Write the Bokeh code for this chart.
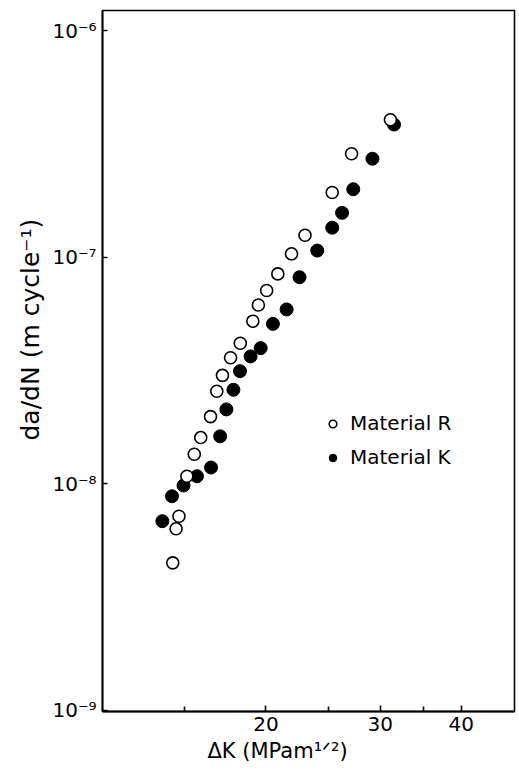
from bokeh.plotting import figure
from bokeh.models import (FixedTicker, CustomJSTickFormatter, Legend, LegendItem,
                          ColumnDataSource, Range1d, Title)
from bokeh.embed import file_html
from bokeh.resources import INLINE

# Stress-intensity range (MPa m^1/2) and crack growth rate (m/cycle)
r_dk = [31.1, 27.1, 25.3, 22.97, 21.9, 20.86, 20.05, 19.47, 19.09, 18.26,
        17.64, 17.14, 16.8, 16.43, 15.87, 15.51, 15.11, 14.69, 14.54, 14.37]
r_rate = [4.04e-7, 2.86e-7, 1.93e-7, 1.25e-7, 1.035e-7, 8.44e-8, 7.13e-8, 6.15e-8,
          5.22e-8, 4.17e-8, 3.60e-8, 3.01e-8, 2.56e-8, 1.98e-8, 1.60e-8, 1.35e-8,
          1.08e-8, 7.19e-9, 6.33e-9, 4.48e-9]

k_dk = [31.5, 29.18, 27.26, 26.2, 25.3, 23.99, 22.53, 21.52, 20.5, 19.63,
        18.94, 18.24, 17.82, 17.38, 17.0, 16.46, 15.66, 14.93, 14.33, 13.85]
k_rate = [3.85e-7, 2.72e-7, 1.995e-7, 1.57e-7, 1.35e-7, 1.07e-7, 8.16e-8, 5.88e-8,
          5.08e-8, 3.97e-8, 3.65e-8, 3.14e-8, 2.60e-8, 2.13e-8, 1.62e-8, 1.18e-8,
          1.08e-8, 9.83e-9, 8.81e-9, 6.84e-9]

series_names = ["Material R", "Material K"]
x_ticks = [20, 30, 40]
x_minor_ticks = [15, 25, 35]
y_ticks = [1e-9, 1e-8, 1e-7, 1e-6]
x_title = "ΔK (MPam¹ᐟ²)"
y_title = "da/dN (m  cycle⁻¹)"

FONT = "DejaVu Sans"

p = figure(width=518, height=775, x_axis_type="log", y_axis_type="log",
           x_range=Range1d(11.2, 48.3), y_range=Range1d(9.89e-10, 1.2266e-6),
           output_backend="svg", toolbar_location=None,
           min_border_left=102, min_border_right=4, min_border_top=10,
           min_border_bottom=64)

p.xgrid.visible = False
p.ygrid.visible = False
p.outline_line_color = "black"
p.outline_line_width = 1.6
p.background_fill_color = "white"
p.border_fill_color = "white"

# x axis
p.xaxis.ticker = FixedTicker(ticks=x_ticks, minor_ticks=x_minor_ticks)
p.xaxis.formatter = CustomJSTickFormatter(code="return String(Math.round(tick));")
p.xaxis.major_tick_in = 6
p.xaxis.major_tick_out = 0
p.xaxis.minor_tick_in = 5
p.xaxis.minor_tick_out = 0
p.xaxis.major_label_standoff = 5

# y axis
p.yaxis.ticker = FixedTicker(ticks=y_ticks, minor_ticks=[])
p.yaxis.formatter = CustomJSTickFormatter(code="""
const sup = {"-":"\u207b","0":"\u2070","1":"\u00b9","2":"\u00b2","3":"\u00b3",
             "4":"\u2074","5":"\u2075","6":"\u2076","7":"\u2077","8":"\u2078","9":"\u2079"};
const e = Math.round(Math.log10(tick));
return "10" + String(e).split("").map(c => sup[c]).join("");
""")
p.yaxis.major_tick_in = 5
p.yaxis.major_tick_out = 0
p.yaxis.minor_tick_in = 0
p.yaxis.minor_tick_out = 0
p.yaxis.major_label_standoff = 6

for ax in (p.xaxis, p.yaxis):
    ax.axis_line_color = "black"
    ax.axis_line_width = 1.8
    ax.major_tick_line_color = "black"
    ax.major_tick_line_width = 1.6
    ax.minor_tick_line_color = "black"
    ax.minor_tick_line_width = 1.6
    ax.major_label_text_font = FONT
    ax.major_label_text_color = "black"
p.xaxis.major_label_text_font_size = "20px"
p.yaxis.major_label_text_font_size = "20px"

# axis titles as side-panel titles (left-aligned + offset to sit off-centre as in the original)
xt = Title(text=x_title, align="left", offset=105, text_font=FONT,
           text_font_size="21px", text_font_style="normal", text_color="black",
           standoff=6)
yt = Title(text=y_title, align="left", offset=271, text_font=FONT,
           text_font_size="25px", text_font_style="normal", text_color="black",
           standoff=10)
p.add_layout(xt, "below")
p.add_layout(yt, "left")

src_k = ColumnDataSource(dict(x=k_dk, y=k_rate))
src_r = ColumnDataSource(dict(x=r_dk, y=r_rate))

rk = p.scatter("x", "y", source=src_k, marker="circle", size=13,
               fill_color="black", line_color="black", line_width=1)
rr = p.scatter("x", "y", source=src_r, marker="circle", size=12,
               fill_color="white", line_color="black", line_width=1.6)

legend = Legend(items=[LegendItem(label=series_names[0], renderers=[rr]),
                       LegendItem(label=series_names[1], renderers=[rk])],
                location=(221, 242))
legend.border_line_color = None
legend.background_fill_alpha = 0
legend.label_text_font = FONT
legend.label_text_font_size = "20px"
legend.label_text_color = "black"
legend.glyph_width = 19
legend.glyph_height = 19
legend.label_standoff = 8
legend.spacing = 10
legend.padding = 0
legend.margin = 0
p.add_layout(legend, "center")

open("out.html", "w").write(file_html(p, INLINE))
